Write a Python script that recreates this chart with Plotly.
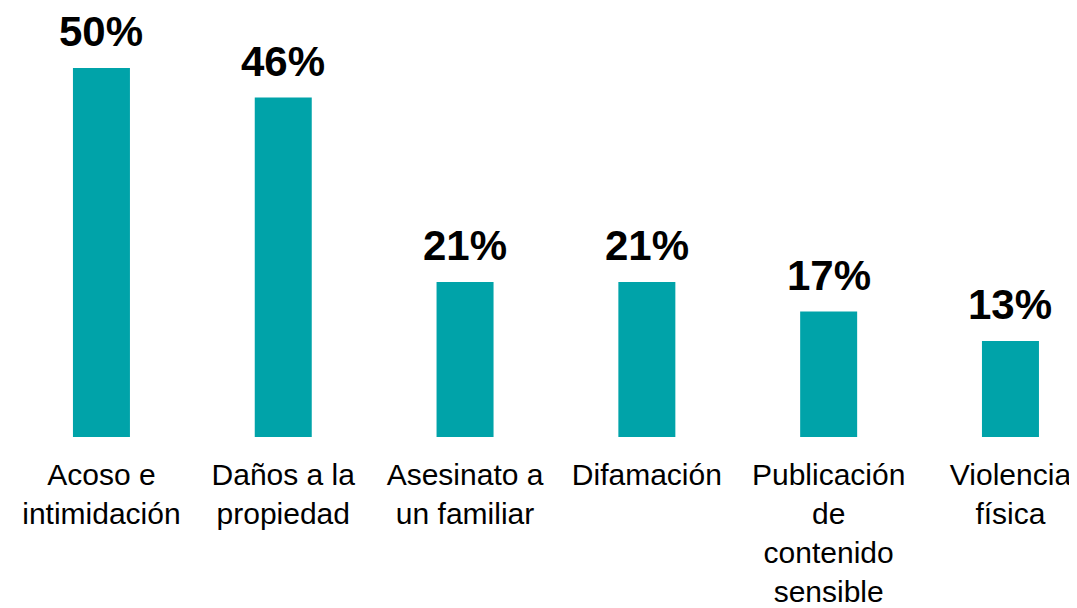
import plotly.graph_objects as go

categories = ["Acoso e<br>intimidación", "Daños a la<br>propiedad", "Asesinato a<br>un familiar",
              "Difamación", "Publicación<br>de<br>contenido<br>sensible", "Violencia<br>física"]
values = [50, 46, 21, 21, 17, 13]
value_labels = ["50%", "46%", "21%", "21%", "17%", "13%"]

BAR_COLOR = "#00A3A9"
FONT = "Liberation Sans, Arial, sans-serif"

fig = go.Figure(go.Bar(
    x=categories, y=values, marker_color=BAR_COLOR, width=0.3135,
    marker_line_width=0, hoverinfo="skip",
))

for c, v, t in zip(categories, values, value_labels):
    fig.add_annotation(x=c, y=v, text="<b>" + t + "</b>", showarrow=False,
                       yanchor="bottom", yshift=11,
                       font=dict(family=FONT, size=42, color="black"))

fig.update_layout(
    width=1069, height=600,
    margin=dict(l=0, r=0, t=0, b=171),
    paper_bgcolor="white", plot_bgcolor="white",
    showlegend=False,
    font=dict(family=FONT, color="black"),
    xaxis=dict(range=[-0.514, 5.366], showgrid=False, zeroline=False, showline=False,
               ticks="", ticklabelstandoff=17, automargin=False,
               tickfont=dict(family=FONT, size=30, color="black")),
    yaxis=dict(range=[0, 58.13], visible=False, showgrid=False, zeroline=False,
               automargin=False),
)

fig.write_html("out.html")
